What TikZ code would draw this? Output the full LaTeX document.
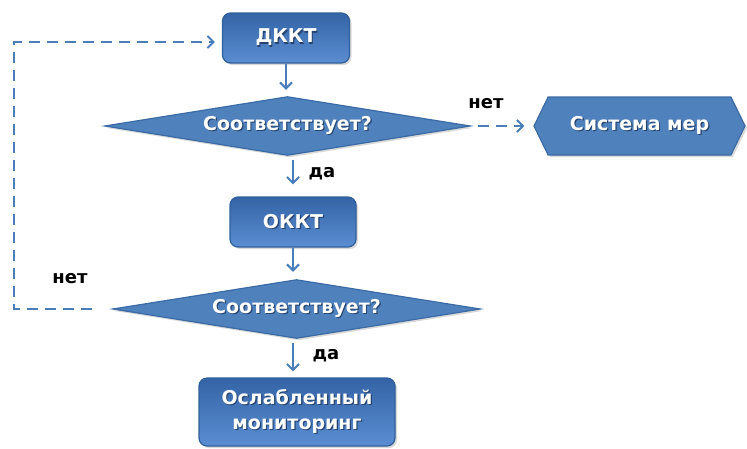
\documentclass[tikz,border=0pt]{standalone}
\usepackage{fontspec}
\setmainfont{DejaVu Sans}
\usetikzlibrary{shapes.symbols,arrows.meta,shadows}
\pgfdeclarelayer{background}
\pgfsetlayers{background,main}
\definecolor{boxtop}{HTML}{3464A6}
\definecolor{boxbot}{HTML}{5A8DD2}
\definecolor{boxline}{HTML}{2F5F9A}
\definecolor{dfill}{HTML}{4F81BD}
\definecolor{dline}{HTML}{3B6BA5}
\definecolor{arr}{HTML}{4A7EBB}
\definecolor{txtshadow}{HTML}{26436E}
\newcommand\shtext[1]{\leavevmode\rlap{\hspace{1.2pt}\raisebox{-1.2pt}{\textcolor{txtshadow}{#1}}}#1}
\begin{document}
\begin{tikzpicture}[x=1pt,y=-1pt,
  shade1/.style={drop shadow={shadow xshift=2pt,shadow yshift=-2pt,opacity=0.3}},
  stepbox/.style={rectangle,rounded corners=8pt,draw=boxline,line width=1.2pt,
    top color=boxtop,bottom color=boxbot,text=white,align=center,inner sep=0pt,
    font=\bfseries\fontsize{19}{25}\selectfont,shade1},
  decision/.style={rectangle,text=white,inner sep=0pt,
    font=\bfseries\fontsize{19}{23}\selectfont},
  diamondpath/.style={draw=dline,line width=1.2pt,fill=dfill,shade1},
  hexbox/.style={signal,signal to=east and west,signal pointer angle=128,
    draw=dline,line width=1.2pt,fill=dfill,text=white,inner sep=0pt,
    font=\bfseries\fontsize{19}{23}\selectfont,shade1},
  lbl/.style={text=black,font=\bfseries\fontsize{18}{21}\selectfont,inner sep=0pt},
  arrowline/.style={draw=arr,line width=2pt,-{Straight Barb[length=6pt,width=12pt]}},
  dashline/.style={draw=arr,line width=2pt,dash pattern=on 11pt off 7pt,
    -{Straight Barb[length=6pt,width=12pt]}}
]
\useasboundingbox (0,0) rectangle (747,448);
\node[stepbox,minimum width=127pt,minimum height=50pt] (dkkt) at (286,38) {\shtext{ДККТ}};
\node[decision,minimum width=365pt,minimum height=58pt] (d1) at (287.5,126) {\shtext{Соответствует?}};
\node[hexbox,minimum width=211pt,minimum height=58pt] (sys) at (639.5,126) {\shtext{Система мер}};
\node[stepbox,minimum width=126pt,minimum height=50pt] (okkt) at (293,222) {\shtext{ОККТ}};
\node[decision,minimum width=367pt,minimum height=58pt] (d2) at (296.5,309) {\shtext{Соответствует?}};
\node[stepbox,minimum width=196pt,minimum height=68pt] (osl) at (297,412) {\shtext{Ослабленный}\\\shtext{мониторинг}};
\node[lbl] (net1) at (486,104) {нет};
\node[lbl] (da1) at (322,174) {да};
\node[lbl] (net2) at (70,279) {нет};
\node[lbl] (da2) at (326,356) {да};
\coordinate (cl) at (14,42);
\begin{pgfonlayer}{background}
\path[diamondpath] (d1.west) -- (d1.north) -- (d1.east) -- (d1.south) -- cycle;
\path[diamondpath] (d2.west) -- (d2.north) -- (d2.east) -- (d2.south) -- cycle;
\end{pgfonlayer}

\draw[arrowline,shorten >=7pt] (dkkt.south) -- (dkkt.south |- d1.north);
\draw[arrowline,shorten <=5pt,shorten >=12pt] (okkt.north |- d1.south) -- (okkt.north);
\draw[arrowline,shorten >=8pt] (okkt.south) -- (okkt.south |- d2.north);
\draw[arrowline,shorten <=5pt,shorten >=6pt] (okkt.south |- d2.south) -- (okkt.south |- osl.north);
\draw[dashline,shorten <=8pt,shorten >=9pt] (d1.east) -- (sys.west);
\draw[dashline,shorten >=7pt] ([xshift=-21pt]d2.west) -| (cl) -- (dkkt.west |- cl);
\end{tikzpicture}
\end{document}
